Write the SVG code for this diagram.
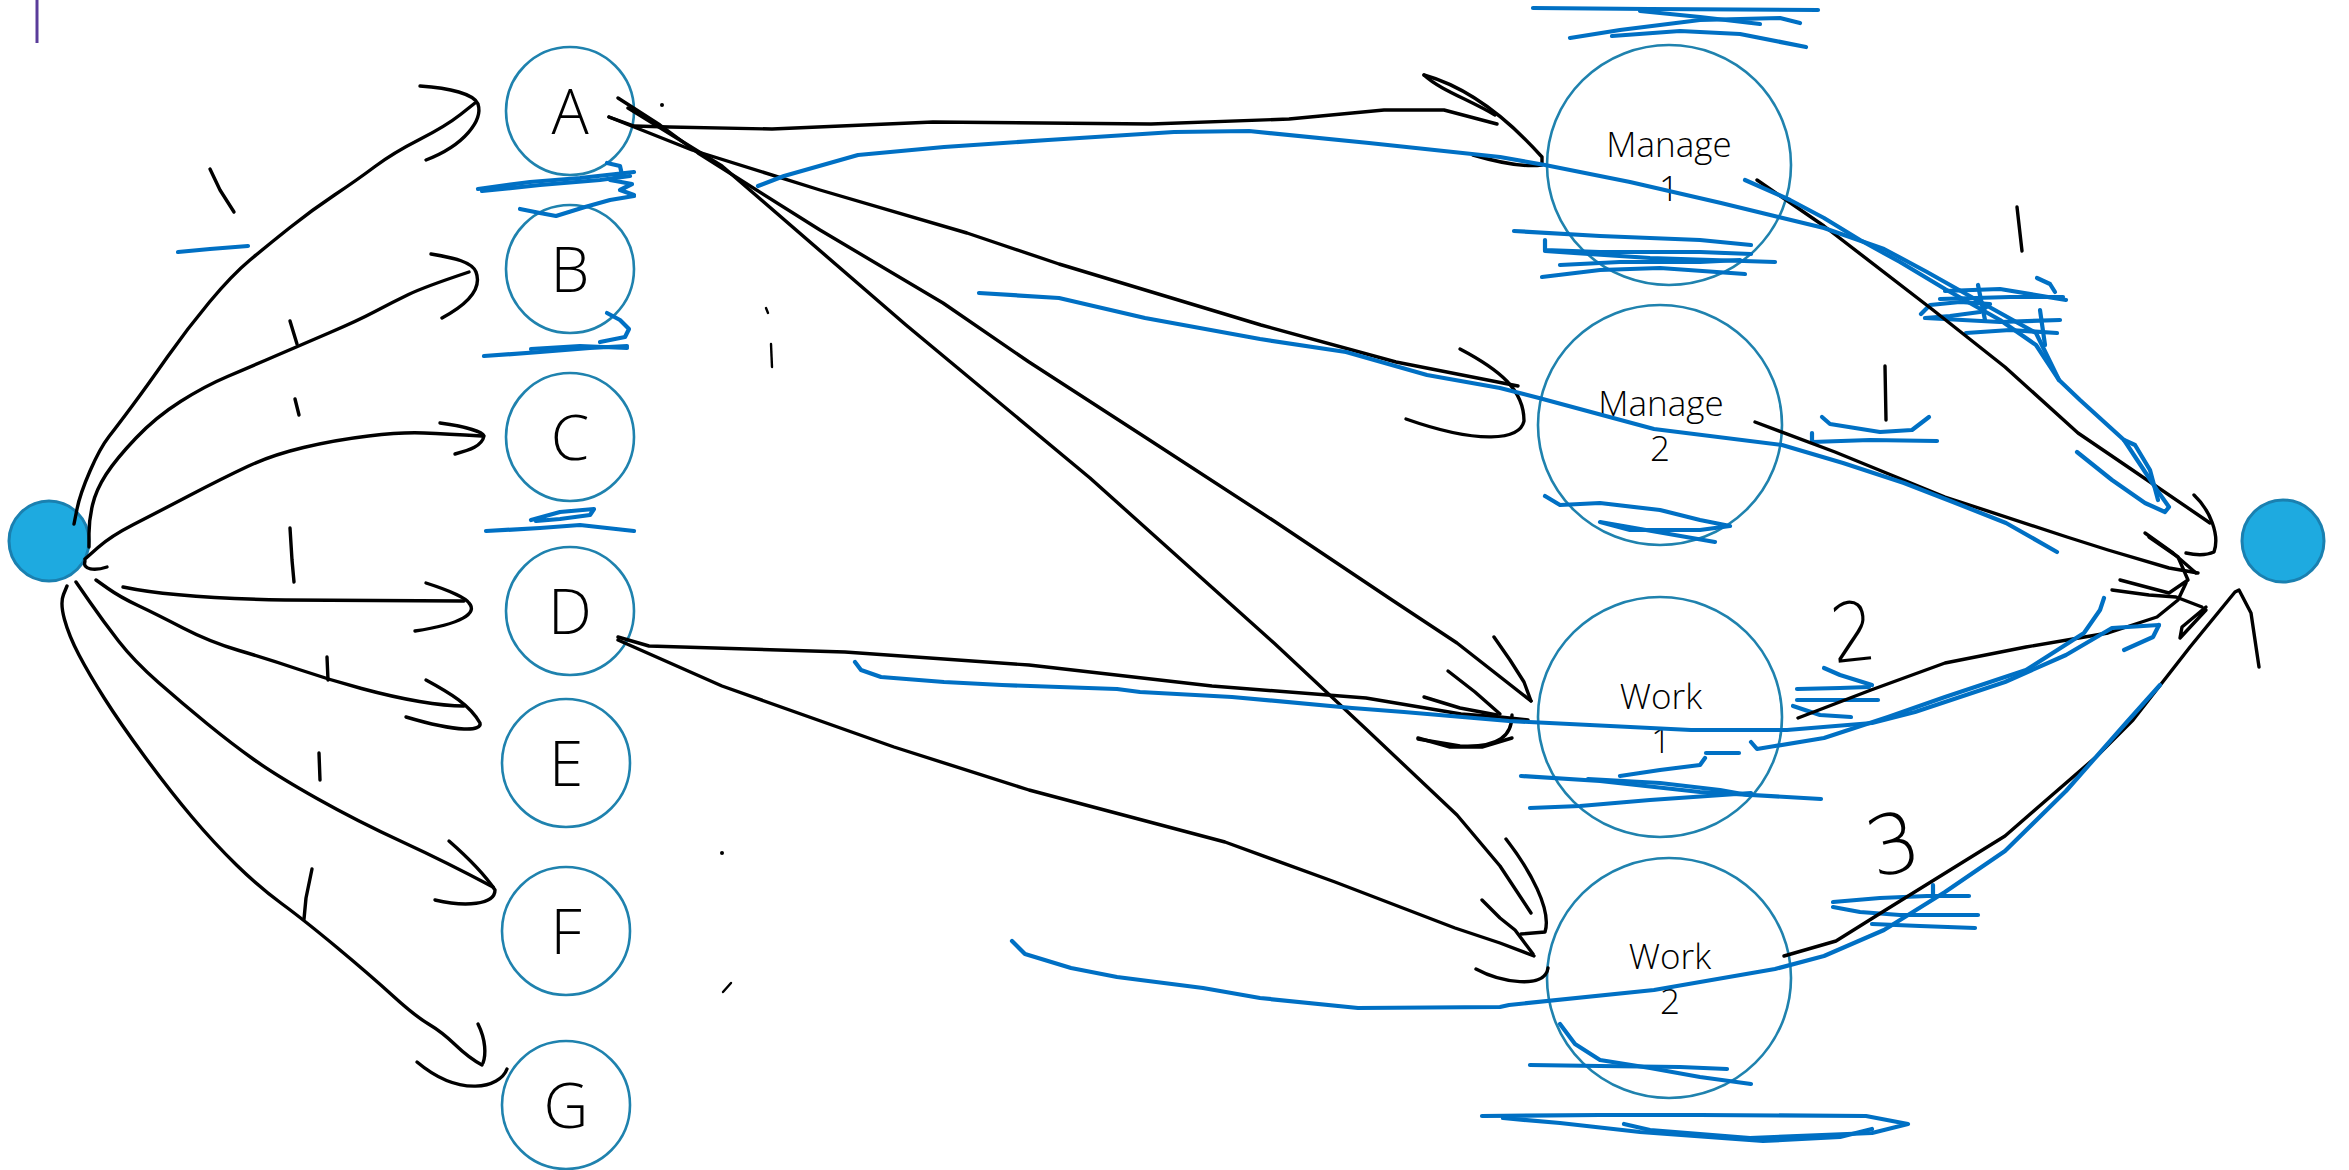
<svg xmlns="http://www.w3.org/2000/svg" width="2349" height="1170" viewBox="0 0 2349 1170">
<style>
.nd{fill:none;stroke:#1f82ae;stroke-width:2.6}
.dot{fill:#1eaae0;stroke:#1a80b0;stroke-width:3}
.lt{font-family:"Open Sans","Noto Sans",sans-serif;font-size:62px;font-weight:300;fill:#000;text-anchor:middle}
.mt{font-family:"Open Sans","Noto Sans",sans-serif;font-size:35px;font-weight:300;fill:#000;text-anchor:middle}
.hw{font-family:"DejaVu Sans",sans-serif;font-size:82px;font-weight:200;fill:#000;text-anchor:middle}
.k{fill:none;stroke:#000;stroke-width:3.4;stroke-linecap:round;stroke-linejoin:round}
.b{fill:none;stroke:#0070c4;stroke-width:4.2;stroke-linecap:round;stroke-linejoin:round}
</style>
<rect width="2349" height="1170" fill="#fff"/>
<line x1="37" y1="0" x2="37" y2="43" stroke="#5a3c9a" stroke-width="3"/>

<g id="nodes">
<g id="start"><circle class="dot" cx="49" cy="541" r="40"/></g>
<g id="end"><circle class="dot" cx="2283" cy="541" r="41"/></g>
<g id="A"><circle class="nd" cx="570" cy="111" r="64"/><text class="lt" x="570" y="134">A</text></g>
<g id="B"><circle class="nd" cx="570" cy="269" r="64"/><text class="lt" x="570" y="292">B</text></g>
<g id="C"><circle class="nd" cx="570" cy="437" r="64"/><text class="lt" x="570" y="460">C</text></g>
<g id="D"><circle class="nd" cx="570" cy="611" r="64"/><text class="lt" x="570" y="634">D</text></g>
<g id="E"><circle class="nd" cx="566" cy="763" r="64"/><text class="lt" x="566" y="786">E</text></g>
<g id="F"><circle class="nd" cx="566" cy="931" r="64"/><text class="lt" x="566" y="954">F</text></g>
<g id="G"><circle class="nd" cx="566" cy="1105" r="64"/><text class="lt" x="566" y="1128">G</text></g>
<g id="Manage1"><ellipse class="nd" cx="1669" cy="165" rx="122" ry="120"/><text class="mt" x="1669" y="157">Manage</text><text class="mt" x="1669" y="201">1</text></g>
<g id="Manage2"><ellipse class="nd" cx="1660" cy="425" rx="122" ry="120"/><text class="mt" x="1661" y="416">Manage</text><text class="mt" x="1660" y="461">2</text></g>
<g id="Work1"><ellipse class="nd" cx="1660" cy="717" rx="122" ry="120"/><text class="mt" x="1661" y="709">Work</text><text class="mt" x="1661" y="753">1</text></g>
<g id="Work2"><ellipse class="nd" cx="1669" cy="978" rx="122" ry="120"/><text class="mt" x="1670" y="969">Work</text><text class="mt" x="1670" y="1014">2</text></g>
</g>

<g id="annotations-blue">
<polyline class="b" points="478,189 530,182 580,178 634,172"/>
<polyline class="b" points="482,191 540,185 600,180 630,176"/>
<polyline class="b" points="607,163 620,166 622,175 610,180 632,184 620,190 634,195"/>
<polyline class="b" points="520,209 540,213 556,216 585,207 610,200 634,196"/>
<polyline class="b" points="484,356 540,352 590,348 627,346"/>
<polyline class="b" points="531,349 580,346 627,348"/>
<polyline class="b" points="607,313 620,320 629,329 625,337 600,342"/>
<polyline class="b" points="486,531 540,528 580,525 634,531"/>
<polyline class="b" points="531,520 560,512 594,509 590,515 560,519 536,521"/>
<polyline class="b" points="178,252 210,249 248,246"/>
<polyline class="b" points="1533,8 1650,9 1818,10"/>
<polyline class="b" points="1570,38 1620,30 1700,20 1780,18 1800,23"/>
<polyline class="b" points="1612,36 1680,31 1740,34 1806,47"/>
<polyline class="b" points="1640,11 1700,17 1760,24"/>
<polyline class="b" points="1514,231 1600,236 1700,240 1751,245"/>
<polyline class="b" points="1545,240 1545,250 1600,252 1700,252 1751,254"/>
<polyline class="b" points="1545,251 1650,258 1775,262"/>
<polyline class="b" points="1542,277 1600,270 1660,268 1745,274"/>
<polyline class="b" points="1560,265 1620,262 1700,262 1740,260"/>
<polyline class="b" points="1945,291 2000,289 2066,300"/>
<polyline class="b" points="1940,299 2010,297 2063,297"/>
<polyline class="b" points="1921,314 1930,305 1960,302 1990,304 1980,312 1950,316 1925,318 2000,322 2060,320"/>
<polyline class="b" points="1966,333 2010,330 2057,333"/>
<polyline class="b" points="2037,278 2050,284 2055,292"/>
<polyline class="b" points="1978,285 1985,320"/>
<polyline class="b" points="2040,310 2045,345"/>
<polyline class="b" points="1822,417 1830,424 1880,432 1912,430 1929,417"/>
<polyline class="b" points="1812,433 1812,442 1870,440 1937,441"/>
<polyline class="b" points="1545,496 1560,505 1600,503 1660,510 1700,520 1730,526 1700,530 1630,530 1600,522 1715,542"/>
<polyline class="b" points="1521,776 1600,781 1700,792 1821,799"/>
<polyline class="b" points="1530,808 1580,806 1650,800 1751,793"/>
<polyline class="b" points="1588,779 1660,783 1720,790 1748,795"/>
<polyline class="b" points="1706,753 1739,753"/>
<polyline class="b" points="1705,758 1700,765 1660,770 1620,776"/>
<polyline class="b" points="1797,689 1840,688 1869,687"/>
<polyline class="b" points="1797,700 1840,700 1878,700"/>
<polyline class="b" points="1824,668 1840,675 1872,685"/>
<polyline class="b" points="1793,706 1820,715 1851,717"/>
<polyline class="b" points="1833,902 1880,898 1927,896 1969,896"/>
<polyline class="b" points="1833,907 1860,912 1900,915 1978,915"/>
<polyline class="b" points="1872,924 1920,926 1975,928"/>
<polyline class="b" points="1933,885 1933,895"/>
<polyline class="b" points="1530,1065 1600,1066 1680,1067 1727,1069"/>
<polyline class="b" points="1560,1024 1575,1044 1600,1060 1650,1068 1700,1077 1751,1084"/>
<polyline class="b" points="1482,1116 1600,1115 1700,1115 1866,1116 1908,1124 1872,1133 1750,1138 1650,1130 1624,1124"/>
<polyline class="b" points="1503,1118 1560,1123 1640,1132 1763,1141 1840,1137 1872,1129"/>
</g>

<g id="connectors">
<path class="k" d="M74,524 L77,509 Q80,494 90,471 Q100,448 109,436.5 Q118,425 132.5,405.5 Q147,386 167,357.5 Q187,329 209.5,302 Q232,275 250,260 Q268,245 290,227.5 Q312,210 334.5,195 Q357,180 375,166.5 Q393,153 419.5,139.5 Q446,126 460.5,114.5 L475,103"/>
<path class="k" d="M420,86 C450,88 474,94 478,104 C483,120 465,145 426,160"/>
<path class="k" d="M89,547 L89,533.5 Q89,520 92.5,505 Q96,490 106,474.5 Q116,459 136,438 Q156,417 180.5,401.5 Q205,386 227.5,376.5 Q250,367 276.5,355.5 Q303,344 330,332.5 Q357,321 375,311.5 Q393,302 408.5,294.5 Q424,287 469,272"/>
<path class="k" d="M431,254 C455,258 472,262 476,272 C482,288 470,303 442,318"/>
<path class="k" d="M85,559 L98,547.5 Q111,536 133.5,524.5 Q156,513 189.5,495.5 Q223,478 247.5,466.5 Q272,455 303.5,447.5 Q335,440 368.5,436 Q402,432 424,433 Q446,434 482,436"/>
<path class="k" d="M440,423 C462,426 482,431 484,436 C482,446 470,450 455,454"/>
<path class="k" d="M85,561 C82,570 95,571 107,567"/>
<path class="k" d="M123,587 Q175,598 285,600 L464,601"/>
<path class="k" d="M426,583 C448,590 466,598 469,603 C478,613 462,624 415,631"/>
<path class="k" d="M96,580 L108,588.5 Q120,597 138,605.5 Q156,614 183,628 Q210,642 239,650.5 Q268,659 299,669.5 Q330,680 361.5,688.5 Q393,697 419.5,701.5 Q446,706 464,706"/>
<path class="k" d="M426,680 C450,693 470,705 480,723 C482,731 460,733 406,717"/>
<path class="k" d="M76,582 L89.5,601.5 Q103,621 118.5,641 Q134,661 158.5,682.5 Q183,704 207.5,724 Q232,744 254.5,760 Q277,776 317,798.5 Q357,821 401.5,841.5 Q446,862 493,887"/>
<path class="k" d="M449,841 C465,855 485,875 495,890 C495,905 465,907 435,900"/>
<path class="k" d="M67,586 L63.5,594.5 Q60,603 64.5,619.5 Q69,636 79,655 Q89,674 104.5,698.5 Q120,723 145,757 Q170,791 192,817 Q214,843 236.5,865 Q259,887 281.5,903.5 Q304,920 337,947.5 Q370,975 392.5,995.5 Q415,1016 428.5,1024 Q442,1032 455.5,1045 Q469,1058 482,1065"/>
<path class="k" d="M478,1024 C486,1040 486,1055 483,1063"/>
<path class="k" d="M507,1069 C500,1088 460,1098 417,1062"/>

<polyline class="k" points="210,169 220,190 234,212"/>
<polyline class="k" points="290,321 297,344"/>
<polyline class="k" points="295,399 299,415"/>
<polyline class="k" points="290,528 292,560 294,582"/>
<polyline class="k" points="327,657 328,680"/>
<polyline class="k" points="319,753 320,780"/>
<polyline class="k" points="312,869 306,898 304,919"/>
<polyline class="k" points="2017,207 2022,251"/>
<polyline class="k" points="1885,366 1886,420"/>
<circle cx="662" cy="105" r="2" fill="#000"/>
<polyline class="k" style="stroke-width:2.4" points="766,308 768,313"/>
<polyline class="k" style="stroke-width:2.4" points="771,344 772,367"/>
<circle cx="722" cy="853" r="2" fill="#000"/>
<polyline class="k" style="stroke-width:2.4" points="731,983 723,992"/>

<polyline class="k" points="609,117 634,126 669,127 772,129 933,122 1151,124 1289,119 1384,110 1444,110 1497,124"/>
<path class="k" d="M1424,75 C1460,85 1500,110 1542,157 L1542,165 C1520,168 1490,160 1473,155"/>
<path class="k" d="M1424,75 C1440,90 1470,100 1495,115"/>
<polyline class="k" points="609,117 692,150 820,190 967,233 1059,264 1261,325 1396,362 1518,386"/>
<path class="k" d="M1460,349 C1500,370 1524,390 1524,421 C1520,440 1480,445 1406,419"/>
<polyline class="k" points="618,98 660,125 698,153 820,230 943,303 1029,362 1151,441 1274,521 1392,600 1457,643 1531,701"/>
<polyline class="k" points="1494,637 1510,660 1524,682 1531,701"/>
<polyline class="k" points="1448,671 1475,692 1500,714"/>
<path class="k" d="M1512,715 C1512,735 1500,748 1460,746 L1418,739"/>
<polyline class="k" points="628,108 722,166 906,325 1090,478 1274,643 1366,729 1457,815 1500,866 1531,913"/>
<path class="k" d="M1506,839 C1530,870 1552,910 1545,932 L1521,934"/>
<polyline class="k" points="1482,900 1500,918 1515,930 1533,954"/>
<path class="k" d="M1476,969 C1500,982 1545,990 1548,968"/>
<polyline class="k" points="618,637 649,646 845,652 1029,665 1212,686 1366,698 1461,714 1500,717 1528,720"/>
<polyline class="k" points="1424,697 1460,708 1497,715"/>
<polyline class="k" points="1418,738 1450,747 1482,747 1512,738"/>
<polyline class="k" points="618,640 722,686 894,747 1029,790 1225,842 1335,882 1455,928 1500,943 1534,956"/>
<polyline class="k" points="1757,180 1824,226 1933,310 2005,367 2078,433 2128,467 2210,523"/>
<path class="k" d="M2194,495 C2210,510 2220,535 2214,552 C2205,556 2195,555 2186,553"/>
<polyline class="k" points="1755,422 1835,452 1945,497 2067,537 2108,550 2169,568 2198,573"/>
<polyline class="k" points="2145,533 2173,553 2196,573"/>
<polyline class="k" points="2120,580 2169,593 2188,580 2178,557 2149,537"/>
<polyline class="k" points="2112,590 2149,595 2176,597 2202,607"/>
<polyline class="k" points="1798,718 1871,690 1945,663 2026,647 2108,633 2157,617 2178,600 2186,583"/>
<polyline class="k" points="1784,956 1836,941 1884,911 2005,836 2096,757 2133,720 2190,647 2235,592 2239,590 2251,613 2259,667"/>
<polyline class="k" points="2206,607 2182,627 2180,638 2206,610"/>

<polyline class="b" points="758,186 784,176 858,155 944,147 1048,140 1174,132 1249,131 1369,143 1500,157 1545,165 1630,182 1721,203 1824,228 1884,249 1927,272 1975,299 2036,333 2059,380 2080,400 2124,440 2157,490 2169,507 2165,512 2145,503 2112,480 2077,452"/>
<polyline class="b" points="2124,440 2135,445 2150,470 2158,500"/>
<polyline class="b" points="1745,180 1790,200 1824,218 1860,240 1900,262 1945,289 2000,320 2036,345 2059,380"/>
<polyline class="b" points="979,293 1059,298 1145,318 1260,339 1346,352 1427,375 1500,388 1539,398 1654,429 1782,445 1843,463 1904,483 1953,502 2006,523 2057,552"/>
<polyline class="b" points="855,662 861,670 881,677 944,682 1002,685 1117,689 1140,692 1232,697 1352,708 1404,712 1509,721 1691,730 1787,730 1872,723 1915,712 2005,682 2066,655 2112,628 2159,625"/>
<polyline class="b" points="2159,625 2153,637 2124,650"/>
<polyline class="b" points="1751,742 1757,749 1775,746 1824,738 1888,717 1945,697 2026,670 2084,633 2100,610 2104,598"/>
<polyline class="b" points="1012,941 1025,954 1071,968 1117,977 1203,988 1260,998 1358,1008 1500,1007 1509,1005 1654,990 1775,969 1824,956 1884,930 1945,892 2005,851 2066,791 2126,723 2160,685"/>
</g>

<text class="hw" transform="translate(1856,661) rotate(-6) scale(0.85,1)" x="0" y="0">2</text>
<text class="hw" transform="translate(1900,872) rotate(-14)" x="0" y="0">3</text>
</svg>
